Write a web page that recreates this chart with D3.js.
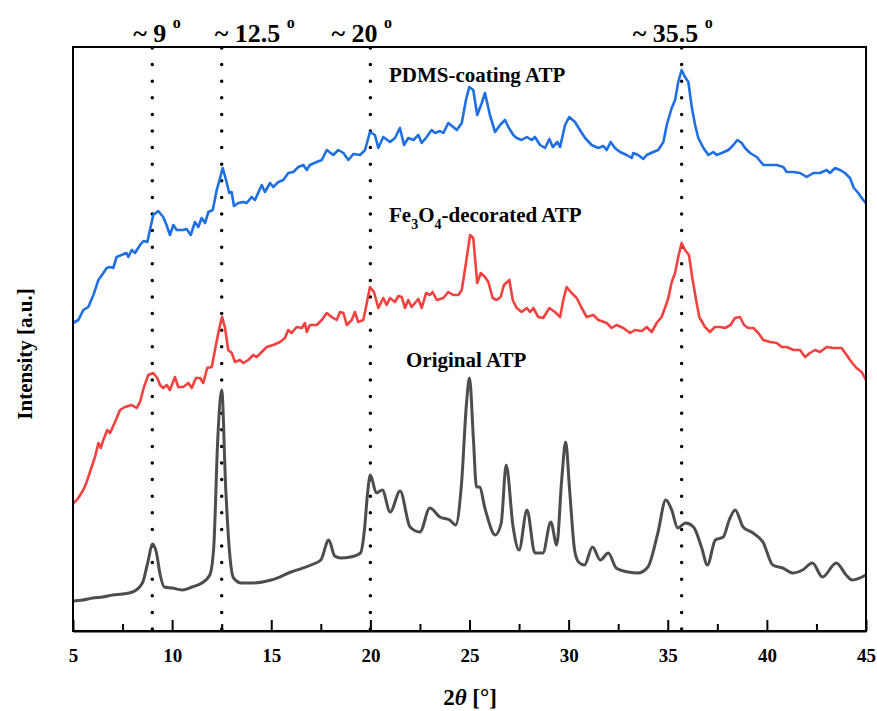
<!DOCTYPE html>
<html>
<head>
<meta charset="utf-8">
<script src="https://cdn.jsdelivr.net/npm/d3@7"></script>
<style>
  body { margin: 0; background: #fff; }
</style>
</head>
<body>
<svg width="877" height="711" font-family="Liberation Serif, DejaVu Serif, serif" font-weight="bold"></svg>
<script>
// [2theta, intensity (a.u.)]
const origData = [[5, 30], [5.5, 31], [6, 33], [6.5, 34], [7, 36], [7.5, 37], [8, 39], [8.5, 48], [8.8, 71], [9, 87], [9.2, 79], [9.4, 56], [9.6, 44], [10, 43], [10.5, 41], [11, 44], [11.5, 48], [11.9, 56], [12.1, 84], [12.3, 191], [12.5, 241], [12.7, 144], [12.9, 78], [13.1, 53], [13.5, 48], [14, 48], [15, 51], [16, 59], [17, 66], [17.5, 71], [17.9, 91], [18.2, 75], [18.5, 73], [19, 74], [19.5, 78], [19.7, 101], [19.85, 136], [20, 156], [20.3, 138], [20.6, 141], [21, 119], [21.5, 140], [22, 104], [22.5, 99], [23, 123], [23.5, 114], [24, 111], [24.3, 106], [24.6, 148], [24.85, 228], [25, 253], [25.2, 191], [25.35, 144], [25.5, 144], [25.8, 121], [26.3, 96], [26.6, 108], [26.85, 166], [27.2, 104], [27.5, 81], [27.9, 121], [28.3, 78], [28.7, 78], [29.1, 109], [29.4, 86], [29.65, 151], [29.85, 189], [30.05, 141], [30.3, 81], [30.5, 69], [30.8, 66], [31.2, 84], [31.6, 71], [32, 78], [32.4, 63], [33, 59], [33.5, 58], [34, 64], [34.5, 98], [34.9, 131], [35.2, 121], [35.5, 103], [35.9, 108], [36.3, 104], [36.7, 84], [37, 66], [37.4, 91], [37.8, 94], [38.1, 111], [38.4, 121], [38.8, 104], [39.3, 98], [39.8, 89], [40.3, 66], [40.8, 63], [41.3, 58], [41.8, 61], [42.3, 68], [42.8, 54], [43.5, 68], [44, 56], [44.3, 51], [45, 56]];

const feData = [[5, 127], [5.27, 133], [5.52, 141], [5.69, 149], [5.94, 164], [6.11, 174], [6.28, 188], [6.4, 183], [6.53, 191], [6.73, 201], [6.87, 198], [7.12, 209], [7.37, 221], [7.62, 224], [7.96, 226], [8.21, 223], [8.38, 229], [8.58, 244], [8.8, 256], [9.05, 258], [9.25, 253], [9.39, 246], [9.55, 243], [9.73, 246], [9.89, 241], [10.14, 254], [10.31, 244], [10.56, 244], [10.82, 248], [10.99, 243], [11.2, 253], [11.41, 253], [11.57, 248], [11.77, 263], [12.0, 264], [12.16, 281], [12.38, 303], [12.52, 314], [12.67, 303], [12.83, 281], [13.01, 278], [13.17, 269], [13.42, 271], [13.59, 268], [13.84, 271], [14.09, 276], [14.27, 274], [14.52, 279], [14.77, 284], [15.1, 286], [15.44, 289], [15.69, 293], [15.86, 301], [16.03, 298], [16.28, 304], [16.54, 303], [16.7, 308], [16.79, 299], [16.95, 306], [17.29, 306], [17.55, 311], [17.8, 318], [18.05, 314], [18.3, 311], [18.47, 319], [18.64, 318], [18.81, 306], [19.06, 311], [19.22, 319], [19.39, 309], [19.64, 311], [19.73, 319], [19.98, 344], [20.18, 339], [20.4, 323], [20.65, 333], [20.82, 326], [20.99, 333], [21.24, 329], [21.41, 335], [21.58, 334], [21.75, 323], [21.91, 331], [22.08, 324], [22.25, 328], [22.42, 332], [22.59, 323], [22.81, 338], [23.01, 336], [23.14, 339], [23.35, 331], [23.68, 333], [23.93, 339], [24.18, 336], [24.44, 336], [24.61, 341], [24.82, 368], [25.03, 396], [25.19, 393], [25.39, 348], [25.57, 358], [25.78, 354], [25.95, 349], [26.17, 333], [26.37, 331], [26.57, 334], [26.74, 346], [27.01, 351], [27.18, 331], [27.38, 323], [27.63, 319], [27.89, 323], [28.05, 319], [28.22, 323], [28.47, 314], [28.72, 313], [29.03, 323], [29.31, 319], [29.57, 314], [29.73, 331], [29.9, 344], [30.15, 338], [30.41, 333], [30.66, 323], [30.91, 314], [31.25, 316], [31.5, 311], [31.92, 308], [32.17, 303], [32.42, 306], [32.76, 303], [33.1, 298], [33.35, 301], [33.69, 300], [33.94, 304], [34.19, 299], [34.44, 308], [34.69, 314], [34.86, 323], [35.03, 333], [35.2, 349], [35.37, 358], [35.53, 374], [35.7, 388], [35.87, 381], [36.07, 376], [36.24, 353], [36.43, 331], [36.59, 314], [36.88, 304], [37.13, 299], [37.38, 304], [37.64, 304], [37.89, 303], [38.17, 306], [38.39, 313], [38.64, 314], [38.85, 306], [39.06, 303], [39.32, 303], [39.57, 298], [39.82, 291], [40.16, 289], [40.5, 288], [40.75, 284], [41.0, 284], [41.34, 281], [41.67, 281], [41.93, 274], [42.17, 278], [42.43, 281], [42.68, 279], [43.02, 284], [43.35, 283], [43.77, 283], [44.02, 276], [44.27, 269], [44.52, 263], [44.78, 259], [45, 251]];

const pdmsData = [[5, 308], [5.27, 311], [5.52, 321], [5.77, 324], [6.03, 336], [6.28, 351], [6.53, 358], [6.7, 363], [6.87, 364], [7.03, 363], [7.2, 374], [7.45, 376], [7.7, 378], [7.79, 374], [7.96, 381], [8.13, 378], [8.38, 386], [8.55, 390], [8.75, 389], [8.88, 401], [9.05, 416], [9.3, 420], [9.55, 414], [9.72, 406], [9.89, 396], [10.06, 406], [10.23, 401], [10.56, 401], [10.73, 402], [10.94, 396], [11.15, 409], [11.32, 404], [11.49, 413], [11.66, 408], [11.83, 419], [12.05, 421], [12.25, 441], [12.42, 453], [12.55, 463], [12.72, 451], [12.88, 438], [13.0, 439], [13.12, 425], [13.34, 428], [13.59, 429], [13.76, 428], [14.01, 434], [14.18, 431], [14.52, 446], [14.68, 439], [14.94, 448], [15.1, 444], [15.36, 449], [15.61, 451], [15.86, 458], [16.11, 459], [16.37, 464], [16.62, 466], [16.79, 461], [16.95, 466], [17.29, 469], [17.55, 471], [17.8, 481], [18.13, 476], [18.38, 481], [18.64, 478], [18.89, 471], [19.14, 477], [19.48, 476], [19.73, 481], [19.98, 499], [20.23, 496], [20.4, 483], [20.65, 494], [20.99, 489], [21.24, 493], [21.49, 503], [21.7, 486], [21.91, 493], [22.17, 491], [22.42, 496], [22.59, 488], [22.84, 494], [23.09, 501], [23.26, 498], [23.51, 500], [23.68, 498], [23.93, 508], [24.18, 504], [24.36, 501], [24.61, 508], [24.82, 531], [24.99, 544], [25.19, 541], [25.39, 516], [25.62, 528], [25.78, 538], [26.03, 516], [26.29, 499], [26.54, 506], [26.79, 511], [26.96, 504], [27.21, 496], [27.38, 493], [27.63, 491], [27.89, 494], [28.14, 491], [28.3, 494], [28.56, 486], [28.81, 483], [29.03, 492], [29.2, 484], [29.43, 489], [29.57, 484], [29.82, 506], [30.03, 514], [30.32, 509], [30.57, 501], [30.83, 493], [31.16, 486], [31.5, 483], [31.75, 485], [31.92, 481], [32.12, 489], [32.34, 483], [32.59, 479], [32.93, 476], [33.18, 473], [33.26, 478], [33.51, 476], [33.77, 472], [33.94, 476], [34.27, 479], [34.52, 481], [34.78, 489], [34.95, 506], [35.2, 523], [35.37, 531], [35.53, 549], [35.7, 561], [35.87, 554], [36.04, 549], [36.21, 524], [36.38, 506], [36.54, 493], [36.8, 483], [37.05, 476], [37.3, 479], [37.47, 476], [37.72, 478], [38.06, 481], [38.31, 486], [38.51, 491], [38.73, 488], [38.9, 483], [39.15, 478], [39.49, 474], [39.82, 466], [40.16, 466], [40.5, 466], [40.83, 464], [41.0, 459], [41.34, 459], [41.67, 458], [42.01, 454], [42.34, 458], [42.68, 458], [43.02, 461], [43.18, 458], [43.44, 463], [43.69, 461], [43.94, 458], [44.19, 453], [44.39, 443], [44.61, 438], [44.86, 431], [45, 428]];

const peaks = [9, 12.5, 20, 35.7];
const peakLabels = ["~ 9", "~ 12.5", "~ 20", "~ 35.5"];
const majorTicks = [5, 10, 15, 20, 25, 30, 35, 40, 45];
const minorTicks = [7.5, 12.5, 17.5, 22.5, 27.5, 32.5, 37.5, 42.5];

const width = 877;
const height = 711;
const margin = { top: 47, right: 11, bottom: 80, left: 73 };

const svg = d3.select("svg");

const x = d3.scaleLinear()
    .domain([5, 45])
    .range([margin.left, width - margin.right]);

const y = d3.scaleLinear()
    .domain([0, 584])
    .range([height - margin.bottom, margin.top]);

const series = [
    { data: origData, color: "#4d4d4d", w: 3, curve: d3.curveMonotoneX },
    { data: feData, color: "#f2423f", w: 2.6, curve: d3.curveLinear },
    { data: pdmsData, color: "#1f6fe3", w: 2.6, curve: d3.curveLinear }
];

// dotted guide lines
svg.append("g")
    .selectAll("line")
    .data(peaks)
    .enter().append("line")
    .attr("x1", d => x(d)).attr("x2", d => x(d))
    .attr("y1", margin.top + 1).attr("y2", height - margin.bottom)
    .attr("stroke", "#000")
    .attr("stroke-width", 3.5)
    .attr("stroke-linecap", "round")
    .attr("stroke-dasharray", "0,16.6");

svg.append("g")
    .selectAll("path")
    .data(series)
    .enter().append("path")
    .attr("fill", "none")
    .attr("stroke", d => d.color)
    .attr("stroke-width", d => d.w)
    .attr("stroke-linejoin", "round")
    .attr("d", d => d3.line().x(p => x(p[0])).y(p => y(p[1])).curve(d.curve)(d.data));

// frame
svg.append("rect")
    .attr("x", margin.left).attr("y", margin.top)
    .attr("width", width - margin.left - margin.right)
    .attr("height", height - margin.top - margin.bottom)
    .attr("fill", "none")
    .attr("stroke", "#000")
    .attr("stroke-width", 2);

const xAxis = svg.append("g")
    .attr("transform", `translate(0,${height - margin.bottom})`)
    .call(d3.axisBottom(x).tickValues(majorTicks).tickSizeInner(-11).tickSizeOuter(0).tickPadding(18));
xAxis.selectAll("text")
    .attr("font-size", 19)
    .attr("font-family", "Liberation Serif, DejaVu Serif, serif")
    .attr("font-weight", "bold")
    .attr("fill", "#000");
xAxis.selectAll("line").attr("stroke-width", 2);
xAxis.select(".domain").attr("stroke-width", 2);

const xMinor = svg.append("g")
    .attr("transform", `translate(0,${height - margin.bottom})`)
    .call(d3.axisBottom(x).tickValues(minorTicks).tickSizeInner(-7).tickSizeOuter(0).tickFormat(""));
xMinor.selectAll("line").attr("stroke-width", 2);
xMinor.select(".domain").remove();

// peak annotations
const labelShift = [-19, -7, -39, -49];
const ann = svg.append("g").attr("font-size", 26);
peaks.forEach((p, i) => {
    const t = ann.append("text")
        .attr("x", x(p) + labelShift[i])
        .attr("y", 42);
    t.append("tspan").text(peakLabels[i] + " ");
    t.append("tspan").attr("font-size", 16).attr("dy", -14).text("o");
});

// series labels
svg.append("text").attr("x", 389).attr("y", 82).attr("font-size", 21).text("PDMS-coating ATP");
const fe = svg.append("text").attr("x", 389).attr("y", 222).attr("font-size", 21);
fe.append("tspan").text("Fe");
fe.append("tspan").attr("font-size", 14).attr("dy", 7).text("3");
fe.append("tspan").attr("dy", -7).text("O");
fe.append("tspan").attr("font-size", 14).attr("dy", 7).text("4");
fe.append("tspan").attr("dy", -7).text("-decorated ATP");
svg.append("text").attr("x", 406).attr("y", 367).attr("font-size", 21).text("Original ATP");

// axis titles
const xt = svg.append("text")
    .attr("x", 470).attr("y", 705)
    .attr("text-anchor", "middle")
    .attr("font-size", 23);
xt.append("tspan").text("2");
xt.append("tspan").attr("font-style", "italic").text("θ");
xt.append("tspan").text(" [°]");

svg.append("text")
    .attr("transform", "translate(32,354) rotate(-90)")
    .attr("text-anchor", "middle")
    .attr("font-size", 21)
    .text("Intensity [a.u.]");
</script>
</body>
</html>
